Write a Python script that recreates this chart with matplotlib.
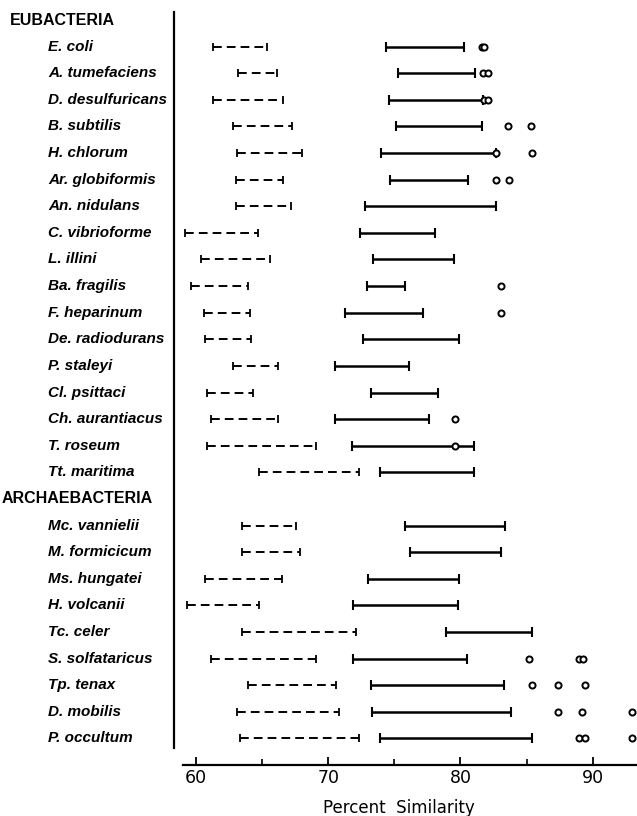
import matplotlib
matplotlib.use("Agg")
import matplotlib.pyplot as plt
import matplotlib.transforms as mtransforms

# Rows: group headers and organisms, top to bottom
groups = ["EUBACTERIA", "ARCHAEBACTERIA"]
eubacteria = ["E. coli", "A. tumefaciens", "D. desulfuricans", "B. subtilis",
              "H. chlorum", "Ar. globiformis", "An. nidulans", "C. vibrioforme",
              "L. illini", "Ba. fragilis", "F. heparinum", "De. radiodurans",
              "P. staleyi", "Cl. psittaci", "Ch. aurantiacus", "T. roseum",
              "Tt. maritima"]
archaebacteria = ["Mc. vannielii", "M. formicicum", "Ms. hungatei", "H. volcanii",
                  "Tc. celer", "S. solfataricus", "Tp. tenax", "D. mobilis",
                  "P. occultum"]

# dashed ranges (low, high)
dash_lo = [61.3, 63.2, 61.3, 62.8, 63.1, 63.0, 63.0, 59.2, 60.4, 59.6, 60.6, 60.7,
           62.8, 60.8, 61.1, 60.8, 64.8,
           63.5, 63.5, 60.7, 59.3, 63.5, 61.1, 63.9, 63.1, 63.3]
dash_hi = [65.4, 66.1, 66.6, 67.3, 68.0, 66.6, 67.2, 64.7, 65.6, 63.9, 64.1, 64.2,
           66.2, 64.3, 66.2, 69.1, 72.3,
           67.6, 67.9, 66.5, 64.8, 72.1, 69.1, 70.6, 70.8, 72.3]
# solid ranges (low, high)
solid_lo = [74.4, 75.3, 74.6, 75.1, 74.0, 74.7, 72.8, 72.4, 73.4, 72.9, 71.3, 72.6,
            70.5, 73.2, 70.5, 71.8, 73.9,
            75.8, 76.2, 73.0, 71.9, 78.9, 71.9, 73.2, 73.3, 73.9]
solid_hi = [80.3, 81.1, 81.7, 81.6, 82.7, 80.6, 82.7, 78.1, 79.5, 75.8, 77.2, 79.9,
            76.1, 78.3, 77.6, 81.0, 81.0,
            83.4, 83.1, 79.9, 79.8, 85.4, 80.5, 83.3, 83.8, 85.4]
# single values (open circles)
points = [[81.6, 81.8], [81.7, 82.1], [81.8, 82.1], [83.6, 85.3], [82.7, 85.4],
          [82.7, 83.7], [], [], [], [83.1], [83.1], [], [], [], [79.6], [79.6], [],
          [], [], [], [], [], [85.2, 89.0, 89.3], [85.4, 87.4, 89.4],
          [87.4, 89.2, 93.0], [89.0, 89.4, 93.0]]

# build row positions (headers take a row slot)
labels = [groups[0]] + eubacteria + [groups[1]] + archaebacteria
rows = []
for i, lab in enumerate(labels):
    if lab not in groups:
        rows.append(i)

fig = plt.figure(figsize=(6.37, 8.16), dpi=100)
ax = fig.add_axes([174 / 637, 51 / 816, 463 / 637, 765 / 816])
ax.set_xlim(58.34, 93.35)
ax.set_ylim(28.0, -0.752)

for k, y in enumerate(rows):
    # dashed bar
    ax.plot([dash_lo[k], dash_hi[k]], [y, y], color="black", lw=1.4,
            dashes=(4.5, 2.6), solid_capstyle="butt", dash_capstyle="butt")
    ax.plot([dash_lo[k], dash_hi[k]], [y, y], ls="none", marker="|",
            ms=6, mew=1.3, color="black")
    # solid bar
    ax.plot([solid_lo[k], solid_hi[k]], [y, y], color="black", lw=1.8,
            solid_capstyle="butt")
    ax.plot([solid_lo[k], solid_hi[k]], [y, y], ls="none", marker="|",
            ms=7, mew=1.5, color="black")
    # circles
    if points[k]:
        ax.plot(points[k], [y] * len(points[k]), ls="none", marker="o",
                ms=4.4, mew=1.4, mfc="white", mec="black", zorder=3)

# row labels
trans = mtransforms.blended_transform_factory(fig.transFigure, ax.transData)
for i, lab in enumerate(labels):
    if lab == groups[0]:
        ax.text(10 / 637, i, lab, transform=trans, fontsize=11.5,
                fontweight="bold", family="Liberation Sans", va="center")
    elif lab == groups[1]:
        ax.text(2 / 637, i, lab, transform=trans, fontsize=11.5,
                fontweight="bold", family="Liberation Sans", va="center")
    else:
        ax.text(48 / 637, i, lab, transform=trans, fontsize=11,
                fontweight="bold", fontstyle="italic",
                family="Liberation Sans", va="center")

# axes styling
ax.spines["top"].set_visible(False)
ax.spines["right"].set_visible(False)
ax.spines["left"].set_bounds(27.37, -0.30)
ax.spines["left"].set_linewidth(1.6)
ax.spines["bottom"].set_bounds(59.0, 93.35)
ax.spines["bottom"].set_linewidth(1.6)
ax.set_yticks([])
ax.set_xticks([60, 70, 80, 90])
ax.set_xticks([65, 75, 85], minor=True)
ax.tick_params(axis="x", which="major", direction="in", length=6, width=1.3,
               pad=3, labelsize=12.5)
ax.tick_params(axis="x", which="minor", direction="in", length=4, width=1.2)
ax.set_xlabel("Percent  Similarity", fontsize=12)
ax.xaxis.label.set_verticalalignment("center")
ax.xaxis.set_label_coords(0.485, -0.056)

plt.savefig("out.png", dpi=100)
